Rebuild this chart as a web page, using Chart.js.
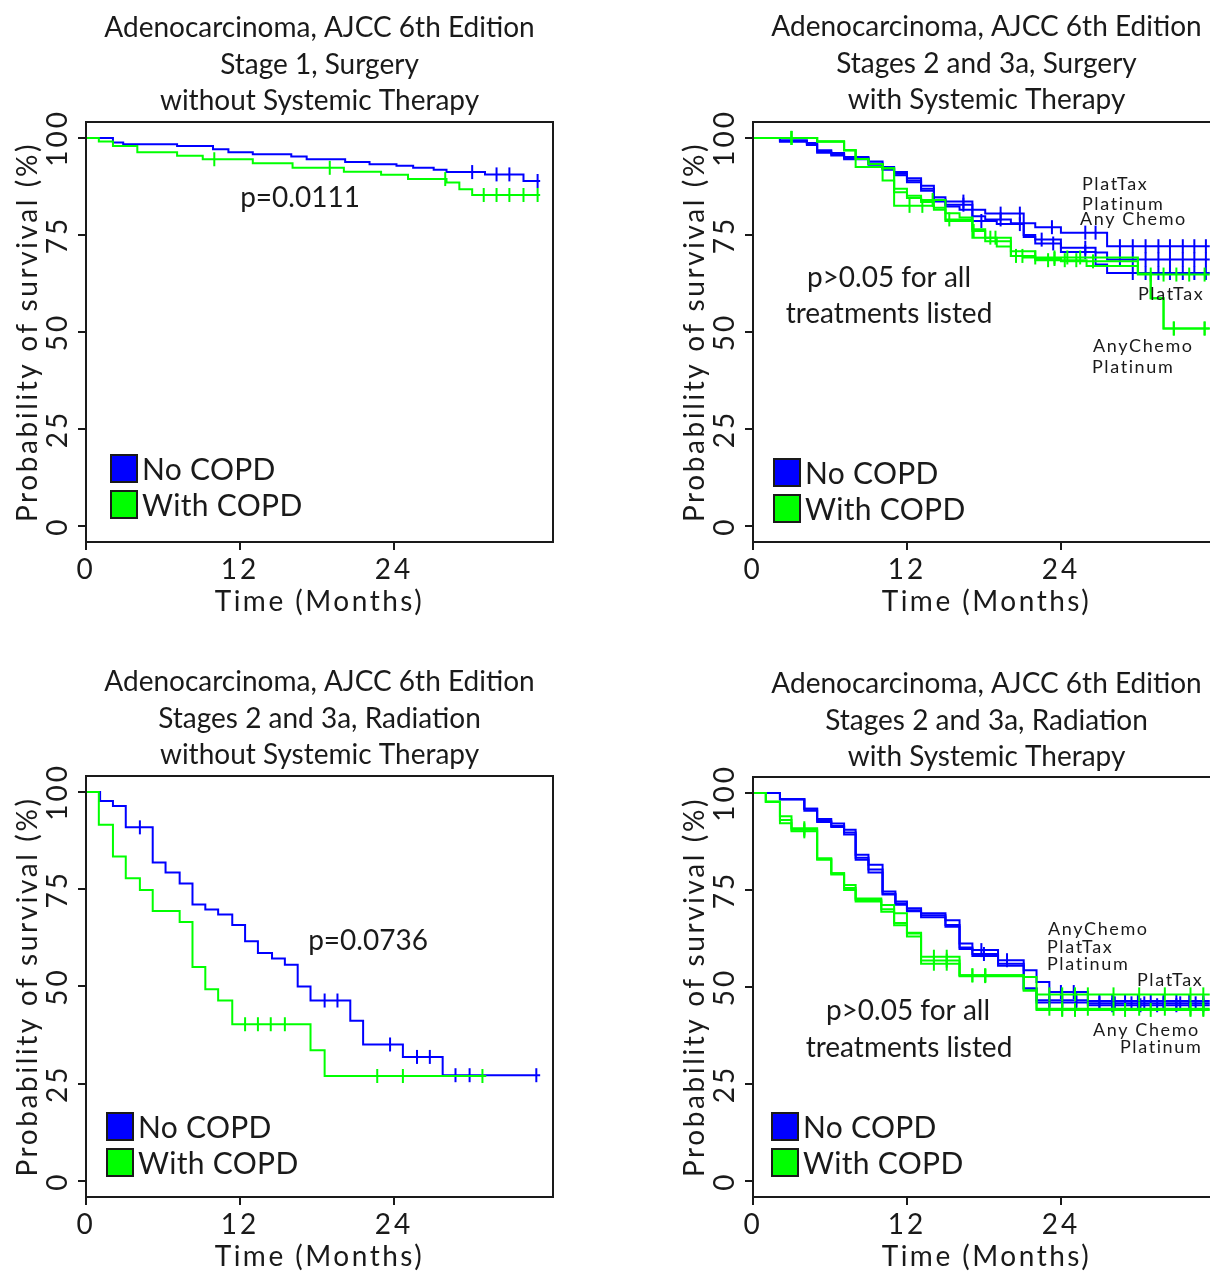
<!DOCTYPE html>
<html>
<head>
<meta charset="utf-8">
<script src="https://cdn.jsdelivr.net/npm/chart.js@4.4.0/dist/chart.umd.min.js"></script>
<style>
  html, body { margin: 0; padding: 0; background: #fff; overflow: hidden; width: 1210px; height: 1272px; }
  canvas { position: absolute; }
</style>
</head>
<body>
<canvas id="p1" style="left:0px;top:0px" width="610" height="636"></canvas>
<canvas id="p2" style="left:640px;top:0px" width="600" height="636"></canvas>
<canvas id="p3" style="left:0px;top:636px" width="610" height="636"></canvas>
<canvas id="p4" style="left:640px;top:636px" width="600" height="636"></canvas>
<script>
// axis ticks
const xTicks = [0, 12, 24];
const yTicks = [0, 25, 50, 75, 100];

// panel 1: stage 1, surgery without systemic therapy
const p1NoT = [0, 2.1, 2.9, 7.1, 9.9, 11.1, 13.0, 16.0, 17.2, 20.2, 22.1, 24.2, 25.5, 27.1, 28.1, 31.1, 34.1];
const p1NoS = [100, 98.8, 98.4, 97.9, 97.1, 96.3, 95.8, 95.2, 94.5, 93.8, 93.2, 92.8, 92.3, 91.8, 91.2, 90.6, 88.9];
const p1NoC = [30.1, 32.0, 33.0, 35.2];
const p1CoT = [0, 1.0, 2.1, 4.0, 7.1, 9.1, 13.0, 16.1, 20.1, 23.0, 25.1, 28.1, 29.1, 30.1];
const p1CoS = [100, 99.1, 97.9, 96.3, 95.4, 94.5, 93.5, 92.3, 91.3, 90.5, 89.4, 88.5, 86.8, 85.3];
const p1CoC = [10.0, 19.0, 28.0, 31.0, 32.0, 33.0, 34.1, 35.2];

// panel 2: stages 2 and 3a, surgery with systemic therapy
const p2NoPlatTaxT = [0, 2.1, 4.2, 5.0, 6.1, 7.1, 9.0, 10.1, 11.0, 12.0, 13.1, 14.1, 15.0, 17.1, 18.1, 21.1, 22.0, 24.0, 27.6];
const p2NoPlatTaxS = [100, 99.4, 98.7, 96.8, 96.1, 95.1, 93.9, 92.5, 91.2, 89.6, 87.7, 84.7, 83.6, 81.5, 80.5, 78.0, 77.0, 75.6, 72.1];
const p2NoPlatTaxC = [16.4, 19.3, 20.8, 23.3, 25.9, 26.7, 28.6, 29.6, 30.6, 31.6, 32.5, 33.5, 34.4, 35.3];
const p2NoPlatinumT = [0, 2.1, 4.2, 5.0, 6.1, 7.1, 9.0, 10.1, 11.0, 12.0, 13.1, 14.1, 15.0, 17.1, 18.1, 20.1, 21.1, 22.0, 24.0, 26.7, 27.6];
const p2NoPlatinumS = [100, 99.2, 98.5, 96.5, 95.8, 94.8, 93.4, 92.1, 90.8, 89.0, 86.9, 84.1, 82.8, 79.8, 79.0, 78.0, 75.0, 73.8, 71.7, 70.5, 68.7];
const p2NoPlatinumC = [16.4, 19.3, 22.5, 25.9, 28.6, 29.6, 30.6, 31.6, 32.5, 33.5, 34.4, 35.3];
const p2NoAnyT = [0, 2.1, 4.2, 5.0, 6.1, 7.1, 9.0, 10.1, 11.0, 12.0, 13.1, 14.1, 15.0, 16.1, 17.1, 19.0, 21.1, 22.0, 24.0, 26.7, 27.6];
const p2NoAnyS = [100, 99.0, 98.2, 96.2, 95.5, 94.5, 93.1, 91.8, 90.4, 88.6, 86.4, 83.6, 82.3, 81.5, 78.6, 77.8, 74.5, 72.8, 70.6, 67.4, 65.2];
const p2NoAnyC = [17.8, 20.8, 23.4, 25.9, 29.6, 30.6, 31.6, 32.5, 33.5, 34.4, 35.3];
const p2CoPlatTaxT = [0, 5.0, 7.1, 8.0, 9.0, 10.1, 11.0, 12.0, 13.1, 15.0, 16.1, 17.1, 18.1, 20.1, 22.0, 26.0, 30.0];
const p2CoPlatTaxS = [100, 99.1, 96.8, 94.6, 93.3, 92.2, 86.9, 85.1, 84.0, 80.6, 79.5, 76.5, 74.3, 70.8, 68.5, 67.0, 64.8];
const p2CoPlatTaxC = [3.0, 14.0, 18.9, 23.0, 24.3, 25.2, 31.0, 32.0, 33.0, 34.0, 35.2];
const p2CoPlatinumT = [0, 5.0, 7.1, 8.0, 10.1, 11.0, 12.0, 13.1, 14.1, 15.0, 17.1, 18.1, 20.1, 21.1, 30.0, 31.0, 32.0];
const p2CoPlatinumS = [100, 99.1, 96.8, 92.5, 89.0, 86.0, 84.5, 83.5, 82.0, 79.0, 76.0, 73.4, 69.6, 69.2, 65.0, 58.7, 50.9];
const p2CoPlatinumC = [3.0, 15.3, 17.2, 21.0, 22.0, 23.5, 24.5, 25.5, 32.8, 35.2];
const p2CoAnyT = [0, 5.0, 7.1, 8.0, 9.0, 10.1, 11.0, 14.1, 15.0, 17.1, 19.0, 20.1, 22.0, 24.0, 30.0, 31.0, 32.0];
const p2CoAnyS = [100, 99.1, 96.8, 94.6, 93.3, 92.2, 82.5, 81.5, 78.6, 74.3, 72.0, 69.6, 68.8, 68.2, 65.0, 58.7, 50.9];
const p2CoAnyC = [3.0, 12.2, 13.2, 18.5, 20.5, 23.5, 26.5, 32.8, 35.2];

// panel 3: stages 2 and 3a, radiation without systemic therapy
const p3NoT = [0, 1.1, 2.1, 3.1, 5.2, 6.2, 7.3, 8.3, 9.3, 10.3, 11.4, 12.4, 13.4, 14.5, 15.5, 16.5, 17.5, 20.6, 21.6, 24.7, 27.8];
const p3NoS = [100, 97.7, 96.4, 90.9, 81.9, 79.3, 76.5, 71.1, 69.8, 68.5, 65.8, 61.6, 58.6, 57.2, 55.6, 50.0, 46.4, 41.2, 35.1, 31.9, 27.2];
const p3NoC = [4.2, 18.6, 19.6, 23.7, 25.8, 26.8, 28.8, 29.9, 35.1];
const p3CoT = [0, 1.0, 2.1, 3.1, 4.2, 5.2, 7.3, 8.3, 9.3, 10.3, 11.4, 17.5, 18.6];
const p3CoS = [100, 91.6, 83.4, 77.8, 74.8, 69.4, 66.6, 55.0, 49.3, 46.4, 40.3, 33.6, 27.0];
const p3CoC = [12.4, 13.4, 14.4, 15.5, 22.7, 24.7, 30.9];

// panel 4: stages 2 and 3a, radiation with systemic therapy
const p4NoAnyT = [0, 2.1, 4.0, 5.0, 6.1, 7.1, 8.0, 9.0, 10.1, 11.1, 12.0, 13.1, 15.0, 16.1, 17.1, 19.1, 21.1, 22.1, 23.1, 26.1];
const p4NoAnyS = [100, 98.4, 95.9, 93.3, 92.1, 90.5, 84.1, 81.5, 74.6, 72.0, 70.3, 69.0, 67.2, 61.2, 59.5, 56.9, 54.3, 51.3, 48.7, 46.4];
const p4NoAnyC = [17.8, 19.8, 24.0, 25.0, 27.0, 28.0, 29.0, 30.0, 31.0, 32.0, 33.0, 34.0, 35.1];
const p4NoPlatTaxT = [0, 2.1, 4.0, 5.0, 6.1, 7.1, 8.0, 9.0, 10.1, 11.1, 12.0, 13.1, 15.0, 16.1, 17.1, 19.1, 21.1, 22.1, 26.1];
const p4NoPlatTaxS = [100, 98.4, 95.9, 92.8, 91.5, 89.8, 82.8, 80.3, 74.0, 71.5, 69.8, 68.5, 66.0, 60.2, 58.5, 56.0, 49.6, 46.6, 45.8];
const p4NoPlatTaxC = [18.0, 23.1, 24.1, 25.2, 27.0, 28.2, 29.5, 30.5, 32.0, 33.3, 34.5, 35.1];
const p4NoPlatinumT = [0, 2.1, 4.0, 5.0, 6.1, 7.1, 8.0, 9.0, 10.1, 11.1, 12.0, 13.1, 15.0, 16.1, 17.1, 19.1, 21.1, 22.1, 26.1];
const p4NoPlatinumS = [100, 98.4, 95.4, 92.5, 91.2, 89.3, 83.3, 79.5, 73.8, 71.2, 69.5, 68.0, 65.5, 59.8, 58.0, 55.5, 49.6, 46.0, 45.3];
const p4NoPlatinumC = [23.1, 24.1, 25.2, 28.0, 30.2, 31.5, 33.0, 35.1];
const p4CoPlatTaxT = [0, 1.0, 2.1, 3.0, 5.0, 6.1, 7.1, 8.0, 10.0, 11.0, 12.0, 13.1, 16.1, 21.1, 22.1];
const p4CoPlatTaxS = [100, 97.7, 94.0, 90.9, 83.2, 79.3, 76.3, 72.8, 71.1, 69.0, 63.8, 57.8, 53.0, 52.6, 48.1];
const p4CoPlatTaxC = [4.0, 14.1, 15.1, 17.1, 18.1, 23.1, 24.1, 25.1, 26.1, 28.1, 30.1, 32.1, 34.1, 35.1];
const p4CoAnyT = [0, 1.0, 2.1, 3.0, 5.0, 6.1, 7.1, 8.0, 10.0, 11.0, 12.0, 13.1, 16.1, 21.1, 22.1];
const p4CoAnyS = [100, 97.7, 92.2, 90.1, 82.8, 79.3, 75.0, 72.0, 69.4, 65.9, 63.0, 56.0, 53.0, 49.1, 44.4];
const p4CoAnyC = [4.0, 14.1, 15.1, 17.1, 18.1, 23.1, 24.1, 26.1, 28.1, 30.1, 32.1, 34.1, 35.1];
const p4CoPlatinumT = [0, 1.0, 2.1, 3.0, 5.0, 6.1, 7.1, 8.0, 10.0, 11.0, 12.0, 13.1, 16.1, 21.1, 22.1];
const p4CoPlatinumS = [100, 97.7, 93.0, 90.5, 83.0, 79.0, 75.5, 72.4, 70.0, 66.5, 64.0, 56.8, 52.8, 49.1, 44.1];
const p4CoPlatinumC = [4.0, 15.1, 18.1, 24.1, 25.1, 29.0, 31.0, 34.1, 35.1];

const BLUE = "#0000ff";
const GREEN = "#00ff00";
const INK = "#1a1a1a";
const FONT = "Lato";

// survival value of a step curve at time x
const survAt = (t, s, x) => {
  let v = s[0];
  t.forEach((ti, i) => { if (ti <= x) v = s[i]; });
  return v;
};

// one KM curve -> a stepped line plus its censor ticks
const curve = (t, s, c, end, color) => {
  const pts = t.map((x, i) => ({ x: x, y: s[i] }));
  pts.push({ x: end, y: s[s.length - 1] });
  return [
    {
      data: pts,
      stepped: "before",
      borderColor: color,
      borderWidth: 2,
      pointRadius: 0,
      fill: false,
    },
    {
      data: c.map((x) => ({ x: x, y: survAt(t, s, x) })),
      showLine: false,
      pointStyle: "line",
      rotation: 90,
      pointRadius: 7,
      borderColor: color,
      pointBorderWidth: 2,
    },
  ];
};

const text = (ctx, str, x, y, size, align, spacing) => {
  ctx.save();
  ctx.font = size + "px " + FONT;
  ctx.letterSpacing = (spacing || 0) + "px";
  ctx.fillStyle = INK;
  ctx.textAlign = align || "center";
  ctx.textBaseline = "alphabetic";
  ctx.fillText(str, x, y);
  ctx.restore();
};

const panelText = {
  id: "panelText",
  beforeDraw(chart) {
    // spaced digits on the axes, like the original
    chart.ctx.letterSpacing = "3px";
  },
  afterDraw(chart, args, o) {
    const ctx = chart.ctx;
    const a = chart.chartArea;
    ctx.letterSpacing = "0px";
    // frame
    ctx.save();
    ctx.strokeStyle = INK;
    ctx.lineWidth = 2;
    ctx.strokeRect(a.left, a.top, a.right - a.left, a.bottom - a.top);
    ctx.restore();
    const cx = (a.left + a.right) / 2;
    // title
    o.title.forEach((line, i) => text(ctx, line, cx, o.titleY + i * 36.5, 28));
    // axis titles
    text(ctx, "Time (Months)", cx, a.bottom + 69, 28, "center", 2.5);
    ctx.save();
    ctx.translate(a.left - 49, (a.top + a.bottom) / 2);
    ctx.rotate(-Math.PI / 2);
    text(ctx, "Probability of survival (%)", 0, 0, 28, "center", 2.6);
    ctx.restore();
    // legend
    const lx = a.left + o.legend[0];
    const ly = a.top + o.legend[1];
    [["No COPD", BLUE], ["With COPD", GREEN]].forEach(([lab, col], i) => {
      const y = ly + i * 36;
      ctx.save();
      ctx.fillStyle = col;
      ctx.strokeStyle = INK;
      ctx.lineWidth = 2;
      ctx.fillRect(lx, y, 26, 27);
      ctx.strokeRect(lx, y, 26, 27);
      ctx.restore();
      text(ctx, lab, lx + 31, y + 25, 30, "left", 0.3);
    });
    // notes inside the plot
    o.notes.forEach((n) => text(ctx, n[0], a.left + n[1], a.top + n[2], n[3], n[4], n[5]));
  },
};

const makeChart = (id, datasets, padding, info) => {
  const scaleBase = {
    grid: { drawOnChartArea: false, drawTicks: true, tickLength: 8, color: INK, lineWidth: 2 },
    border: { display: false },
  };
  return new Chart(document.getElementById(id), {
    type: "line",
    data: { datasets: datasets },
    plugins: [panelText],
    options: {
      responsive: false,
      animation: false,
      events: [],
      layout: { padding: padding },
      plugins: { legend: { display: false }, tooltip: { enabled: false }, panelText: info },
      scales: {
        x: {
          ...scaleBase,
          type: "linear",
          min: 0,
          max: 36.4,
          afterBuildTicks: (s) => { s.ticks = xTicks.map((v) => ({ value: v })); },
          afterFit: (s) => { s.height = 40; },
          ticks: { font: { family: FONT, size: 28 }, color: INK, padding: 3, maxRotation: 0 },
        },
        y: {
          ...scaleBase,
          type: "linear",
          min: -4.1,
          max: 104.1,
          afterBuildTicks: (s) => { s.ticks = yTicks.map((v) => ({ value: v })); },
          afterFit: (s) => { s.width = 70; },
          ticks: { font: { family: FONT, size: 28 }, color: INK, padding: -4, minRotation: 90, maxRotation: 90, crossAlign: "center" },
        },
      },
    },
  });
};

const smallLabel = 18;
const sp = 1.6;

makeChart(
  "p1",
  [...curve(p1CoT, p1CoS, p1CoC, 35.4, GREEN), ...curve(p1NoT, p1NoS, p1NoC, 35.4, BLUE)],
  { left: 16, top: 122, right: 57, bottom: 54 },
  {
    title: ["Adenocarcinoma, AJCC 6th Edition", "Stage 1, Surgery", "without Systemic Therapy"],
    titleY: 37,
    legend: [25, 333],
    notes: [["p=0.0111", 214, 85, 28, "center", 0]],
  }
);

makeChart(
  "p2",
  [
    ...curve(p2CoPlatTaxT, p2CoPlatTaxS, p2CoPlatTaxC, 35.6, GREEN),
    ...curve(p2CoPlatinumT, p2CoPlatinumS, p2CoPlatinumC, 35.6, GREEN),
    ...curve(p2CoAnyT, p2CoAnyS, p2CoAnyC, 35.6, GREEN),
    ...curve(p2NoPlatTaxT, p2NoPlatTaxS, p2NoPlatTaxC, 35.6, BLUE),
    ...curve(p2NoPlatinumT, p2NoPlatinumS, p2NoPlatinumC, 35.6, BLUE),
    ...curve(p2NoAnyT, p2NoAnyS, p2NoAnyC, 35.6, BLUE),
  ],
  { left: 43, top: 122, right: 20, bottom: 54 },
  {
    title: ["Adenocarcinoma, AJCC 6th Edition", "Stages 2 and 3a, Surgery", "with Systemic Therapy"],
    titleY: 36,
    legend: [21, 337],
    notes: [
      ["p>0.05 for all", 136, 165, 28, "center", 0],
      ["treatments listed", 136, 201, 28, "center", 0],
      ["PlatTax", 329, 68, smallLabel, "left", sp],
      ["Platinum", 329, 88, smallLabel, "left", sp],
      ["Any Chemo", 327, 103, smallLabel, "left", sp],
      ["PlatTax", 385, 178, smallLabel, "left", sp],
      ["AnyChemo", 340, 230, smallLabel, "left", sp],
      ["Platinum", 339, 251, smallLabel, "left", sp],
    ],
  }
);

makeChart(
  "p3",
  [...curve(p3CoT, p3CoS, p3CoC, 31.2, GREEN), ...curve(p3NoT, p3NoS, p3NoC, 35.4, BLUE)],
  { left: 16, top: 140, right: 57, bottom: 35 },
  {
    title: ["Adenocarcinoma, AJCC 6th Edition", "Stages 2 and 3a, Radiation", "without Systemic Therapy"],
    titleY: 55,
    legend: [21, 337],
    notes: [["p=0.0736", 282, 174, 28, "center", 0]],
  }
);

makeChart(
  "p4",
  [
    ...curve(p4CoPlatTaxT, p4CoPlatTaxS, p4CoPlatTaxC, 35.6, GREEN),
    ...curve(p4CoAnyT, p4CoAnyS, p4CoAnyC, 35.6, GREEN),
    ...curve(p4CoPlatinumT, p4CoPlatinumS, p4CoPlatinumC, 35.6, GREEN),
    ...curve(p4NoAnyT, p4NoAnyS, p4NoAnyC, 35.6, BLUE),
    ...curve(p4NoPlatTaxT, p4NoPlatTaxS, p4NoPlatTaxC, 35.6, BLUE),
    ...curve(p4NoPlatinumT, p4NoPlatinumS, p4NoPlatinumC, 35.6, BLUE),
  ],
  { left: 43, top: 141, right: 20, bottom: 35 },
  {
    title: ["Adenocarcinoma, AJCC 6th Edition", "Stages 2 and 3a, Radiation", "with Systemic Therapy"],
    titleY: 57,
    legend: [19, 336],
    notes: [
      ["p>0.05 for all", 155, 243, 28, "center", 0],
      ["treatments listed", 156, 280, 28, "center", 0],
      ["AnyChemo", 295, 158, smallLabel, "left", sp],
      ["PlatTax", 294, 176, smallLabel, "left", sp],
      ["Platinum", 294, 193, smallLabel, "left", sp],
      ["PlatTax", 384, 209, smallLabel, "left", sp],
      ["Any Chemo", 340, 259, smallLabel, "left", sp],
      ["Platinum", 367, 276, smallLabel, "left", sp],
    ],
  }
);
</script>
</body>
</html>
